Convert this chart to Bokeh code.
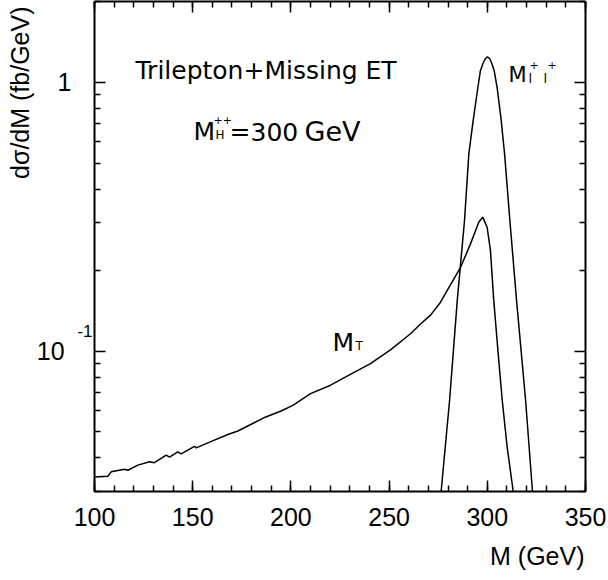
from bokeh.plotting import figure
from bokeh.models import Range1d, FixedTicker, LinearAxis, LogAxis, Label, Title
from bokeh.embed import file_html
from bokeh.resources import INLINE

# Transverse-mass distribution (GeV, fb/GeV)
mass_t = [100.0, 106.8, 108.5, 115.3, 117.0, 122.1, 128.0, 130.5, 136.5, 138.2,
          142.4, 144.1, 150.9, 151.8, 157.7, 167.9, 173.0, 179.8, 186.6, 195.0,
          201.0, 210.0, 220.2, 230.3, 240.5, 250.7, 260.9, 266.0, 271.1, 276.2,
          279.6, 286.4, 291.4, 295.7, 297.7, 299.9, 301.6, 303.3, 305.4, 307.6,
          310.1, 313.2, 316.0]
sigma_t = [0.0340, 0.0342, 0.0355, 0.0363, 0.0360, 0.0376, 0.0387, 0.0384, 0.0410, 0.0403,
           0.0421, 0.0414, 0.0442, 0.0436, 0.0455, 0.0489, 0.0504, 0.0534, 0.0566, 0.0598,
           0.0628, 0.0694, 0.0746, 0.0819, 0.0897, 0.101, 0.116, 0.126, 0.136, 0.152,
           0.168, 0.205, 0.25, 0.302, 0.315, 0.289, 0.237, 0.154, 0.1006, 0.0656,
           0.044, 0.030, 0.021]

# Same-sign dilepton invariant-mass distribution
mass_ll = [274.0, 276.5, 280.8, 284.7, 288.4, 290.6, 292.8, 295.2, 296.5, 297.7,
           298.9, 300.1, 301.3, 302.4, 303.5, 305.0, 307.1, 308.8, 311.5, 314.9,
           319.5, 323.0, 325.5]
sigma_ll = [0.021, 0.030, 0.0656, 0.154, 0.306, 0.542, 0.72, 0.957, 1.105, 1.17,
            1.222, 1.246, 1.222, 1.17, 1.105, 0.957, 0.72, 0.542, 0.306, 0.154,
            0.0656, 0.030, 0.021]

x_major = [100, 150, 200, 250, 300, 350]
x_minor = list(range(100, 351, 10))
y_major = [0.1, 1]
y_minor = [0.03, 0.04, 0.05, 0.06, 0.07, 0.08, 0.09,
           0.2, 0.3, 0.4, 0.5, 0.6, 0.7, 0.8, 0.9, 2.0]
y_labels = {0.1: "10\u00a0", 1: "1"}
exp_label = "-1"

AXIS_FONT = "Liberation Sans"
TEXT_FONT = "DejaVu Sans"

# vertical anchor of the raised exponent next to the 10 label
EXP_TICK = 0.1184

p = figure(width=608, height=580, y_axis_type="log",
           x_range=Range1d(100, 350), y_range=Range1d(0.03, 2.0),
           output_backend="svg", toolbar_location=None,
           min_border_left=94, min_border_right=23,
           min_border_top=1, min_border_bottom=88)
p.grid.visible = False
p.outline_line_color = None
p.background_fill_color = "white"
p.border_fill_color = "white"

xticker = FixedTicker(ticks=x_major, minor_ticks=x_minor)
yticker = FixedTicker(ticks=y_major, minor_ticks=y_minor)


def style(ax):
    ax.axis_line_width = 2
    ax.axis_line_color = "black"
    ax.major_tick_in = 11
    ax.major_tick_out = 0
    ax.minor_tick_in = 6
    ax.minor_tick_out = 0
    ax.major_tick_line_width = 1.5
    ax.minor_tick_line_width = 1.5
    ax.major_label_text_font = AXIS_FONT
    ax.major_label_text_font_size = "25px"
    ax.major_label_text_color = "black"


def hide_labels(ax):
    ax.major_label_text_font_size = "1px"
    ax.major_label_text_alpha = 0
    ax.major_label_standoff = 0


def labels_only(ax):
    ax.axis_line_color = None
    ax.major_tick_line_color = None
    ax.minor_tick_line_color = None
    ax.major_tick_in = 0
    ax.minor_tick_in = 0


xa = p.xaxis[0]
xa.ticker = xticker
style(xa)
xa.major_label_standoff = 16

# left frame edge: ticks only
ya = p.yaxis[0]
ya.ticker = yticker
style(ya)
hide_labels(ya)

# exponent of the lower decade label
exp_axis = LogAxis(ticker=FixedTicker(ticks=[EXP_TICK]))
style(exp_axis)
labels_only(exp_axis)
exp_axis.major_label_text_font_size = "17px"
exp_axis.major_label_standoff = 2
exp_axis.major_label_overrides = {EXP_TICK: exp_label}
p.add_layout(exp_axis, "left")

# decade labels
dec_axis = LogAxis(ticker=FixedTicker(ticks=y_major))
style(dec_axis)
labels_only(dec_axis)
dec_axis.major_label_standoff = 3
dec_axis.major_label_overrides = y_labels
p.add_layout(dec_axis, "left")

top = LinearAxis(ticker=xticker)
style(top)
hide_labels(top)
p.add_layout(top, "above")

right = LogAxis(ticker=yticker)
style(right)
hide_labels(right)
p.add_layout(right, "right")

# axis titles
p.add_layout(Title(text="M (GeV)", align="right", offset=1, standoff=22,
                   text_font=AXIS_FONT, text_font_size="25px",
                   text_font_style="normal", text_color="black"), "below")
p.add_layout(Title(text="d\u03c3/dM (fb/GeV)", align="right", offset=5, standoff=0,
                   text_font=AXIS_FONT, text_font_size="25px",
                   text_font_style="normal", text_color="black"), "left")

p.line(mass_t, sigma_t, line_color="black", line_width=1.5)
p.line(mass_ll, sigma_ll, line_color="black", line_width=1.5)


def label(x, y, text, size, font=TEXT_FONT, **kw):
    p.add_layout(Label(x=x, y=y, x_units="screen", y_units="screen", text=text,
                       text_font=font, text_font_size=f"{size}px",
                       text_baseline="alphabetic", text_color="black", **kw))


# process annotations
label(41, 421, "Trilepton+Missing ET", 25)
label(99, 360, "M", 25)
label(121, 357, "H", 12)
label(119, 372, "++", 11)
label(135, 360, "=", 25)
label(156, 360, "300", 25)
label(210, 360, "GeV", 27)

label(238, 149, "M", 25)
label(261, 146, "T", 12)

label(414, 417, "M", 21)
label(434, 413, "l", 13)
label(449, 413, "l", 13)
label(435, 427, "+", 11)
label(453, 427, "+", 11)

open("out.html", "w").write(file_html(p, INLINE))
